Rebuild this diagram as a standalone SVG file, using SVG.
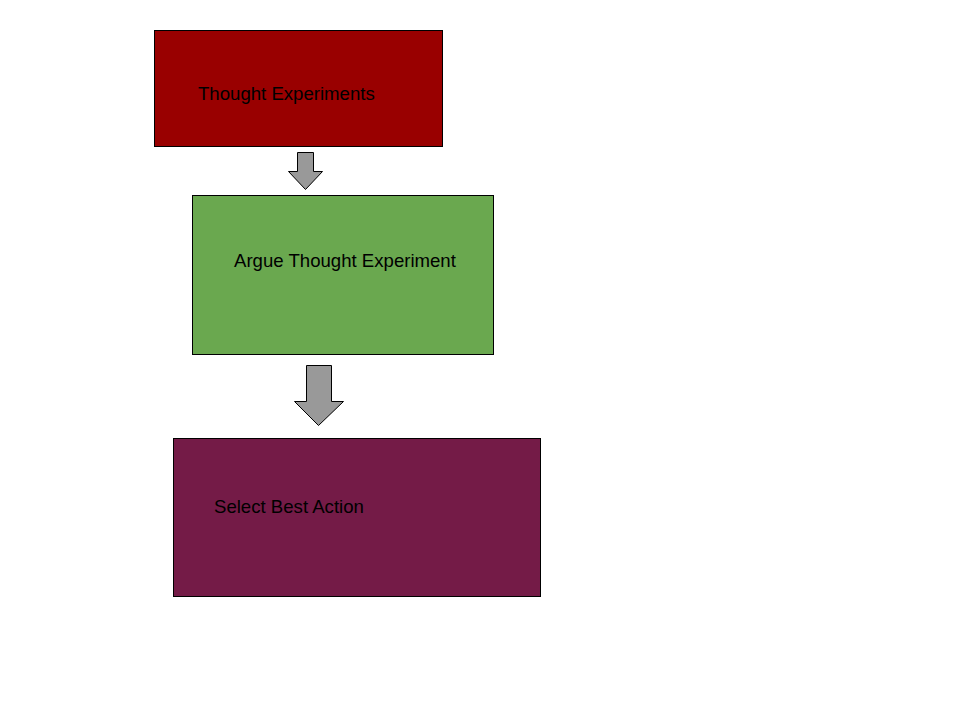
<svg xmlns="http://www.w3.org/2000/svg" width="960" height="720" viewBox="0 0 960 720">
<style>
.box{stroke:#000;stroke-width:1}
.lbl{font-family:"Liberation Sans",Arial,sans-serif;font-size:18.6px;fill:#000}
.arr{fill:#999999;stroke:#000;stroke-width:1;stroke-linejoin:miter}
</style>
<rect width="960" height="720" fill="#fff"/>
<g id="node1">
<rect class="box" x="154.5" y="30.5" width="288" height="116" fill="#990000"/>
<text class="lbl" x="198" y="100">Thought Experiments</text>
</g>
<g id="node2">
<rect class="box" x="192.5" y="195.5" width="301" height="159" fill="#6aa84f"/>
<text class="lbl" x="234" y="267">Argue Thought Experiment</text>
</g>
<g id="node3">
<rect class="box" x="173.5" y="438.5" width="367" height="158" fill="#741b47"/>
<text class="lbl" x="214" y="513">Select Best Action</text>
</g>
<g id="connectors">
<polygon class="arr" points="297.5,152.5 313.5,152.5 313.5,171.5 322.5,171.5 305.5,189.5 288.5,171.5 297.5,171.5"/>
<polygon class="arr" points="306.5,365.5 331.5,365.5 331.5,401.5 343.5,401.5 318.5,425.5 294.5,401.5 306.5,401.5"/>
</g>
</svg>
